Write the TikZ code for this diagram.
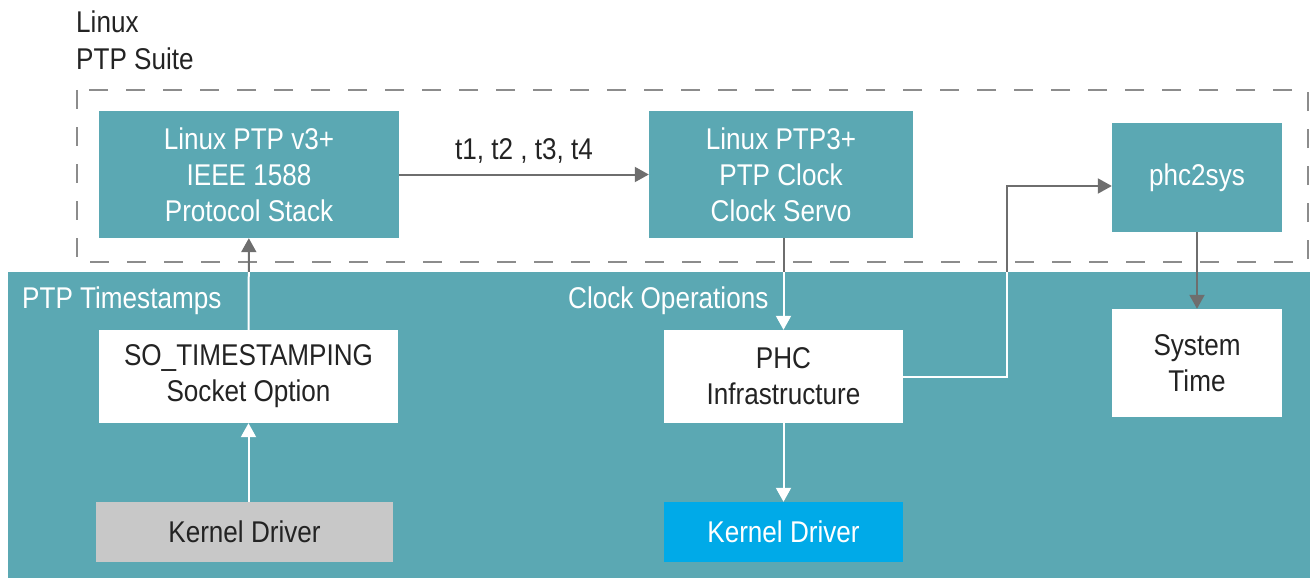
\documentclass[tikz,border=0pt]{standalone}
\usepackage{fontspec}
\setmainfont{Liberation Sans}[FakeStretch=0.87]
\usetikzlibrary{arrows.meta}
\definecolor{tealbg}{RGB}{91,168,179}
\definecolor{linegray}{RGB}{110,110,110}
\definecolor{dashgray}{RGB}{140,140,140}
\definecolor{kdgray}{RGB}{200,200,200}
\definecolor{kdblue}{RGB}{0,170,232}
\definecolor{txt}{RGB}{35,35,35}
\begin{document}
\begin{tikzpicture}[x=1pt,y=-1pt,
  lbl/.style={inner sep=0pt, font=\fontsize{30}{37}\selectfont},
  box/.style={inner sep=0pt, align=center, font=\fontsize{30}{36}\selectfont},
  tealbox/.style={box, fill=tealbg, text=white},
  whitebox/.style={box, fill=white, text=txt},
  conn/.style={line width=2pt, -{Triangle[width=15pt,length=14pt]}},
  graycon/.style={conn, draw=linegray, color=linegray},
  whitecon/.style={conn, draw=white, color=white}]
\useasboundingbox (0,0) rectangle (1310,578);
% background region
\fill[tealbg] (8,272) rectangle (1310,578);
% dashed suite box
\draw[dashgray, line width=2pt, dash pattern=on 19pt off 18pt] (77,90) rectangle (1308,262);
% title
\node[lbl, align=left, anchor=north west, text=txt] (title) at (76,11) {Linux\\PTP Suite};
\node[lbl, anchor=base west, text=white] (ts) at (22,308) {PTP Timestamps};
\node[lbl, anchor=base west, text=white] (co) at (568,308) {Clock Operations};
% boxes
\node[tealbox, minimum width=300pt, minimum height=127pt] (b1) at (249,174.5) {Linux PTP v3+\\IEEE 1588\\Protocol Stack};
\node[tealbox, minimum width=264pt, minimum height=127pt] (b2) at (781,174.5) {Linux PTP3+\\PTP Clock\\Clock Servo};
\node[tealbox, minimum width=170pt, minimum height=109pt] (p2s) at (1197,177.5) {phc2sys};
\node[whitebox, minimum width=299pt, minimum height=93pt] (so) at (248.5,376.5) {SO\_TIMESTAMPING\\Socket Option};
\node[whitebox, minimum width=239pt, minimum height=93pt] (phc) at (783.5,376.5) {PHC\\Infrastructure};
\node[whitebox, minimum width=170pt, minimum height=108pt] (st) at (1197,363) {System\\Time};
\node[box, fill=kdgray, text=txt, minimum width=297pt, minimum height=60pt] (kd1) at (244.5,532) {Kernel Driver};
\node[box, fill=kdblue, text=white, minimum width=239pt, minimum height=60pt] (kd2) at (783.5,532) {Kernel Driver};
\coordinate (bend) at (1007,186);
% connectors: label arrow
\draw[graycon] (b1) -- node[lbl, above=10pt, text=txt] (tl) {t1, t2 , t3, t4} (b2);
\draw[graycon] (p2s) -- (st);
\draw[whitecon] (so.south |- kd1.north) -- (so.south);
\draw[whitecon] (phc) -- (kd2);
% connectors crossing the boundary: gray above, white inside region
\begin{scope}
  \clip (0,0) rectangle (1310,272);
  \draw[graycon] (so) -- (b1);
  \draw[graycon] (phc.north |- b2.south) -- (phc.north);
  \draw[graycon] (phc.east) -| (bend) -- (bend -| p2s.west);
\end{scope}
\begin{scope}
  \clip (0,272) rectangle (1310,578);
  \draw[whitecon] (so) -- (b1);
  \draw[whitecon] (phc.north |- b2.south) -- (phc.north);
  \draw[whitecon] (phc.east) -| (bend) -- (bend -| p2s.west);
\end{scope}
\end{tikzpicture}
\end{document}
